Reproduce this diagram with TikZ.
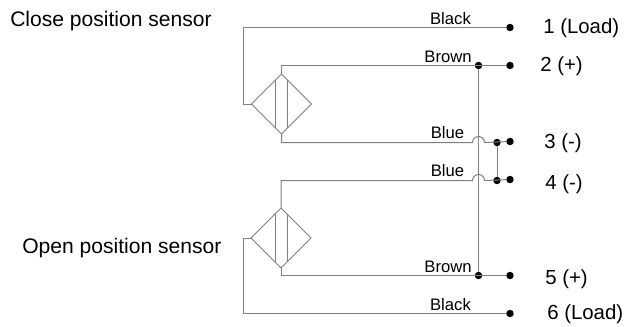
\documentclass[tikz,border=0pt]{standalone}
\usepackage{fontspec}
\setmainfont{Liberation Sans}
\usetikzlibrary{shapes.geometric}
\tikzstyle{sensor} = [diamond, aspect=1, minimum size=45pt, inner sep=0pt, outer sep=0pt, draw=wiregray, line width=0.75pt]
\tikzstyle{terminal} = [circle, fill=black, minimum size=5.6pt, inner sep=0pt, outer sep=0pt]
\tikzstyle{junction} = [circle, fill=black, minimum size=5.6pt, inner sep=0pt, outer sep=0pt]
\tikzstyle{wire} = [draw=wiregray, line width=0.75pt]
\tikzstyle{colorlabel} = [font=\fontsize{12.5pt}{14pt}\selectfont, inner sep=0pt]
\tikzstyle{portlabel} = [font=\fontsize{15.3pt}{18pt}\selectfont, anchor=west, inner sep=0pt]
\tikzstyle{sensorlabel} = [font=\fontsize{15.8pt}{18pt}\selectfont, anchor=west, inner sep=0pt]
\definecolor{wiregray}{RGB}{128,128,128}

\begin{document}
\begin{tikzpicture}[x=0.75pt, y=-0.75pt, node distance=28.5pt]
\useasboundingbox (0,0) rectangle (624,326);

\node (close) [sensorlabel] at (10,21) {Close position sensor};
\node (open) [sensorlabel] at (22,248) {Open position sensor};

\node (sensorA) [sensor] at (281.5,104) {};
\node (sensorB) [sensor] at (281,238) {};

\node (t1) [terminal] at (510,27.5) {};
\node (t2) [terminal, below of=t1] {};
\node (t3) [terminal, below of=t2, yshift=-28.5pt] {};
\node (t4) [terminal, below of=t3] {};
\node (t5) [terminal, below of=t4, yshift=-43.5pt] {};
\node (t6) [terminal, below of=t5] {};

\node (brownA) [junction] at (478.5,65.5) {};
\node (brownB) [junction] at (478.5,275.5) {};
\node (blueA) [junction] at (497,142.5) {};
\node (blueB) [junction] at (497,180.5) {};

\coordinate (bendA) at (243,104);
\coordinate (bendB) at (243,238);
\coordinate (hopA) at (472.5,142.5);
\coordinate (hopB) at (472.5,180.5);

\node (port1) [portlabel] at (543,28) {1 (Load)};
\node (port2) [portlabel] at (540,66) {2 (+)};
\node (port3) [portlabel] at (544,143) {3 (-)};
\node (port4) [portlabel] at (545,184) {4 (-)};
\node (port5) [portlabel] at (545,279) {5 (+)};
\node (port6) [portlabel] at (547,314) {6 (Load)};

\node (black1) [colorlabel] at (450.5,19) {Black};
\node (brown1) [colorlabel] at (448,56.5) {Brown};
\node (blue1) [colorlabel] at (447.5,132.5) {Blue};
\node (blue2) [colorlabel] at (447.5,171) {Blue};
\node (brown2) [colorlabel] at (448,266.5) {Brown};
\node (black2) [colorlabel] at (450.5,304.5) {Black};

% top sensor
\draw [wire] ([shift={(-6,-24)}]sensorA.center) -- ([shift={(-6,24)}]sensorA.center);
\draw [wire] ([shift={(6,-24)}]sensorA.center) -- ([shift={(6,24)}]sensorA.center);
\draw [wire] (sensorA.west) -- (bendA) |- (t1);
\draw [wire] (sensorA.north) |- (t2);
\draw [wire] (sensorA.south) |- (hopA) arc[start angle=180, end angle=360, radius=6] -- (t3);

% bottom sensor
\draw [wire] ([shift={(-6,-24)}]sensorB.center) -- ([shift={(-6,24)}]sensorB.center);
\draw [wire] ([shift={(6,-24)}]sensorB.center) -- ([shift={(6,24)}]sensorB.center);
\draw [wire] (sensorB.north) |- (hopB) arc[start angle=180, end angle=360, radius=6] -- (t4);
\draw [wire] (sensorB.south) |- (t5);
\draw [wire] (sensorB.west) -- (bendB) |- (t6);

\draw [wire] (brownA) -- (brownB);
\draw [wire] (blueA) -- (blueB);

\end{tikzpicture}
\end{document}
